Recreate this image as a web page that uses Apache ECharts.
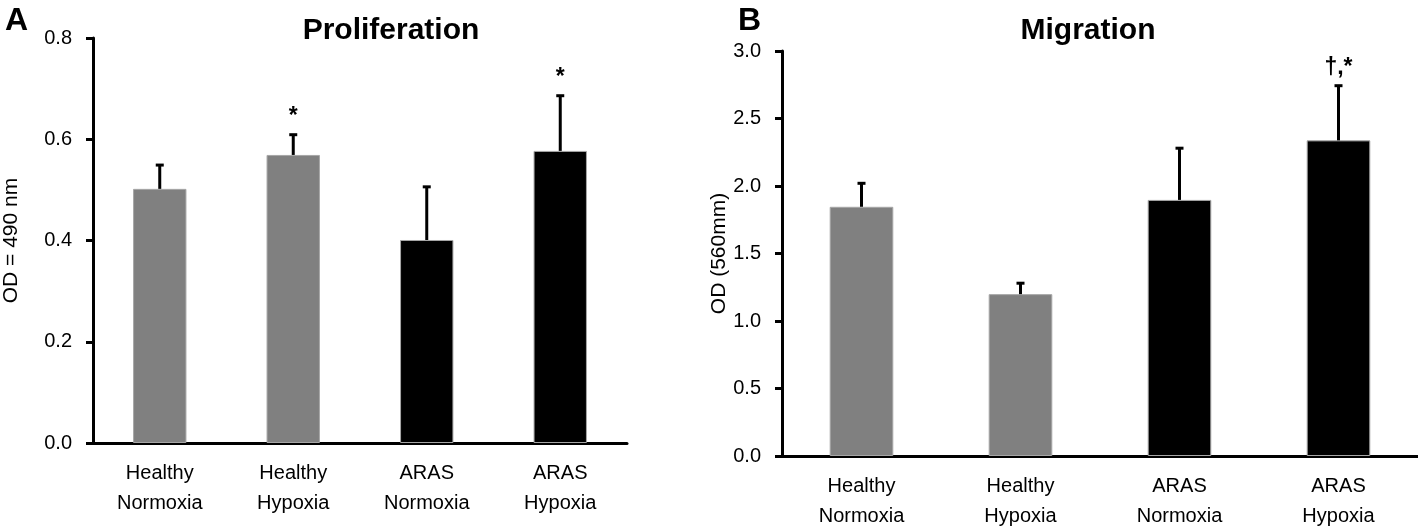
<!DOCTYPE html>
<html>
<head>
<meta charset="utf-8">
<script src="https://cdn.jsdelivr.net/npm/echarts@6/dist/echarts.min.js"></script>
<style>html,body{margin:0;padding:0;background:#fff}#c{width:1418px;height:531px}</style>
</head>
<body>
<div id="c"></div>
<script>
const categories = ['Healthy\nNormoxia', 'Healthy\nHypoxia', 'ARAS\nNormoxia', 'ARAS\nHypoxia'];
const groups = ['Healthy', 'Healthy', 'ARAS', 'ARAS'];
const prolifValues = [0.502, 0.569, 0.401, 0.577];
const prolifErrors = [0.047, 0.040, 0.105, 0.109];
const prolifMarks = ['', '*', '', '*'];
const migrValues = [1.846, 1.199, 1.897, 2.338];
const migrErrors = [0.174, 0.081, 0.383, 0.405];
const migrMarks = ['', '', '', '\u2020,*'];
const prolifTicks = { min: 0, max: 0.8, interval: 0.2 };
const migrTicks = { min: 0, max: 3.0, interval: 0.5 };

const groupColor = { Healthy: '#808080', ARAS: '#000000' };
const FONT = '"Liberation Sans", Arial, sans-serif';

function barData(vals) {
  return vals.map((v, i) => ({
    value: v,
    itemStyle: { color: groupColor[groups[i]], borderColor: '#a6a6a6', borderWidth: 1 }
  }));
}
function errData(vals, errs, marks) {
  return vals.map((v, i) => [i, v, v + errs[i], marks[i]]);
}
function errRender(halfCap) {
  return function (params, api) {
    const x = api.value(0), lo = api.value(1), hi = api.value(2);
    const mark = api.value(3);
    const p0 = api.coord([x, lo]);
    const p1 = api.coord([x, hi]);
    const children = [
      { type: 'line', shape: { x1: p0[0], y1: p0[1], x2: p1[0], y2: p1[1] }, style: { stroke: '#000', lineWidth: 3 } },
      { type: 'line', shape: { x1: p1[0] - halfCap, y1: p1[1], x2: p1[0] + halfCap, y2: p1[1] }, style: { stroke: '#000', lineWidth: 3 } }
    ];
    if (mark) {
      children.push({
        type: 'text',
        style: { text: mark, x: p1[0], y: p1[1] - 7, align: 'center', verticalAlign: 'bottom',
                 fill: '#000', font: 'bold 23px ' + FONT }
      });
    }
    return { type: 'group', children: children };
  };
}

function xAxisCfg(idx) {
  return {
    type: 'category', gridIndex: idx, data: categories,
    axisLine: { lineStyle: { color: '#000', width: 3 } },
    axisTick: { show: false },
    axisLabel: { color: '#000', fontSize: 20, fontFamily: FONT, lineHeight: 30, margin: 15, interval: 0 }
  };
}
function yAxisCfg(idx, t, name, gap) {
  return {
    type: 'value', gridIndex: idx, min: t.min, max: t.max, interval: t.interval,
    name: name, nameLocation: 'middle', nameGap: gap,
    nameTextStyle: { color: '#000', fontSize: 21, fontFamily: FONT },
    axisLine: { show: true, lineStyle: { color: '#000', width: 3 } },
    axisTick: { show: true, length: 7, lineStyle: { color: '#000', width: 3 } },
    splitLine: { show: false },
    axisLabel: { color: '#000', fontSize: 20, fontFamily: FONT, margin: 21,
                 formatter: v => v.toFixed(1) }
  };
}

const chart = echarts.init(document.getElementById('c'), null, { renderer: 'canvas' });
chart.setOption({
  backgroundColor: '#fff',
  animation: false,
  title: [
    { text: 'Proliferation', left: 386, top: 11, textAlign: 'center',
      textStyle: { fontSize: 30, fontWeight: 'bold', color: '#000', fontFamily: FONT } },
    { text: 'Migration', left: 1083, top: 11, textAlign: 'center',
      textStyle: { fontSize: 30, fontWeight: 'bold', color: '#000', fontFamily: FONT } },
    { text: 'A', left: 0, top: 0, textStyle: { fontSize: 32, fontWeight: 'bold', color: '#000', fontFamily: FONT } },
    { text: 'B', left: 733, top: 0, textStyle: { fontSize: 32, fontWeight: 'bold', color: '#000', fontFamily: FONT } }
  ],
  grid: [
    { left: 93, top: 38, width: 534, height: 405 },
    { left: 782, top: 51, width: 636, height: 408 }
  ],
  xAxis: [xAxisCfg(0), xAxisCfg(1)],
  yAxis: [yAxisCfg(0, prolifTicks, 'OD = 490 nm', 71), yAxisCfg(1, migrTicks, 'OD (560mm)', 27)],
  series: [
    { type: 'bar', xAxisIndex: 0, yAxisIndex: 0, barWidth: '40%', data: barData(prolifValues) },
    { type: 'custom', xAxisIndex: 0, yAxisIndex: 0, renderItem: errRender(4), data: errData(prolifValues, prolifErrors, prolifMarks), z: 5 },
    { type: 'bar', xAxisIndex: 1, yAxisIndex: 1, barWidth: '40%', data: barData(migrValues) },
    { type: 'custom', xAxisIndex: 1, yAxisIndex: 1, renderItem: errRender(4), data: errData(migrValues, migrErrors, migrMarks), z: 5 }
  ]
});
</script>
</body>
</html>
